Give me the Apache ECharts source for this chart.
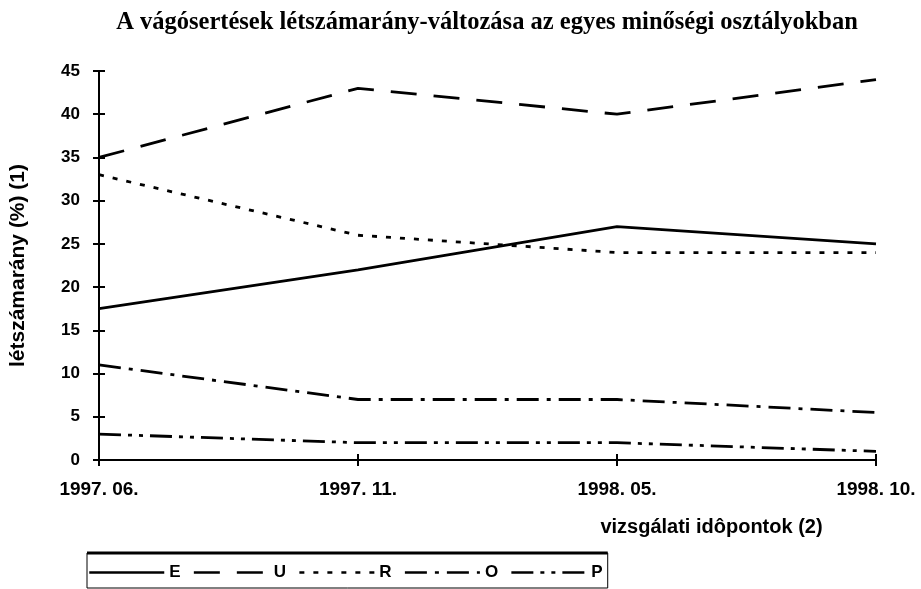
<!DOCTYPE html>
<html>
<head>
<meta charset="utf-8">
<script src="https://cdn.jsdelivr.net/npm/echarts@6/dist/echarts.min.js"></script>
<style>
  html, body { margin: 0; padding: 0; background: #fff; }
  #chart { width: 921px; height: 589px; }
</style>
</head>
<body>
<div id="chart"></div>
<script>
var myChart = echarts.init(document.getElementById('chart'))

// vizsgálati időpontok
var categories = ['1997. 06.', '1997. 11.', '1998. 05.', '1998. 10.']
var yTicks = [0, 5, 10, 15, 20, 25, 30, 35, 40, 45]

// minőségi osztályok, létszámarány %
var seriesE = [17.5, 22, 27, 25]
var seriesU = [35, 43, 40, 44]
var seriesR = [33, 26, 24, 24]
var seriesO = [11, 7, 7, 5.5]
var seriesP = [3, 2, 2, 1]

var dashes = {
  E: 'solid',
  U: [26, 17],
  R: [5, 9],
  O: [22, 8, 4, 8],
  P: [22, 7, 4, 7, 4, 7]
}

function line(name, data) {
  return {
    name: name,
    type: 'line',
    data: data,
    symbol: 'none',
    silent: true,
    color: '#000',
    lineStyle: { color: '#000', width: 2.8, type: dashes[name] }
  }
}

var font = 'Liberation Sans'

var option = {
  backgroundColor: '#fff',
  animation: false,
  color: ['#000'],
  title: {
    text: 'A vágósertések létszámarány-változása az egyes minőségi osztályokban',
    left: 482,
    textAlign: 'center',
    top: 5,
    textStyle: { fontFamily: 'Liberation Serif', fontWeight: 'bold', fontSize: 24.5, color: '#000' }
  },
  legend: {
    left: 87,
    top: 553,
    orient: 'horizontal',
    itemWidth: 75,
    itemHeight: 14,
    itemGap: 12,
    padding: [11, 5, 7, 1],
    borderColor: '#000',
    borderWidth: 1,
    borderRadius: 0,
    selectedMode: false,
    itemStyle: { opacity: 0 },
    lineStyle: { width: 2.5 },
    textStyle: { fontFamily: font, fontWeight: 'bold', fontSize: 17, color: '#000' },
    data: ['E', 'U', 'R', 'O', 'P']
  },
  grid: { left: 98, right: 45, top: 71, bottom: 129 },
  xAxis: [{
    type: 'category',
    data: categories,
    boundaryGap: false,
    name: 'vizsgálati idôpontok (2)',
    nameLocation: 'middle',
    nameGap: 57,
    nameTextStyle: {
      fontFamily: font, fontWeight: 'bold', fontSize: 20, color: '#000',
      padding: [0, 0, 0, 448]
    },
    axisLine: { lineStyle: { color: '#000', width: 2 } },
    axisTick: { show: true, length: 6, lineStyle: { color: '#000', width: 2 } },
    axisLabel: { margin: 20, fontFamily: font, fontWeight: 'bold', fontSize: 19, color: '#000' },
    splitLine: { show: false }
  }, {
    // inner half of the crossing ticks
    type: 'category',
    data: categories,
    boundaryGap: false,
    position: 'bottom',
    axisLine: { show: false },
    axisTick: { show: true, inside: true, length: 6, lineStyle: { color: '#000', width: 2 } },
    axisLabel: { show: false },
    splitLine: { show: false }
  }],
  yAxis: [{
    type: 'value',
    min: yTicks[0],
    max: yTicks[yTicks.length - 1],
    interval: 5,
    name: 'létszámarány (%) (1)',
    nameLocation: 'middle',
    nameGap: 70,
    nameTextStyle: { fontFamily: font, fontWeight: 'bold', fontSize: 21, color: '#000' },
    axisLine: { show: true, lineStyle: { color: '#000', width: 2 } },
    axisTick: { show: true, length: 6, lineStyle: { color: '#000', width: 2 } },
    axisLabel: { margin: 19, fontFamily: font, fontWeight: 'bold', fontSize: 17, color: '#000' },
    splitLine: { show: false }
  }, {
    type: 'value',
    min: yTicks[0],
    max: yTicks[yTicks.length - 1],
    interval: 5,
    position: 'left',
    axisLine: { show: false },
    axisTick: { show: true, inside: true, length: 6, lineStyle: { color: '#000', width: 2 } },
    axisLabel: { show: false },
    splitLine: { show: false }
  }],
  series: [
    line('E', seriesE),
    line('U', seriesU),
    line('R', seriesR),
    line('O', seriesO),
    line('P', seriesP)
  ]
}

myChart.setOption(option)

// thick top edge of the legend box, placed where the legend actually landed
var legendView = (myChart._componentsViews || []).filter(function (v) {
  return v && v.type === 'legend.plain'
})[0]
if (legendView && legendView._backgroundEl) {
  var bg = legendView._backgroundEl.shape
  var gx = legendView.group.x
  var gy = legendView.group.y
  myChart.setOption({
    graphic: [{
      type: 'line',
      silent: true,
      shape: { x1: gx + bg.x, y1: gy + bg.y, x2: gx + bg.x + bg.width, y2: gy + bg.y },
      style: { stroke: '#000', lineWidth: 3 }
    }]
  })
}
</script>
</body>
</html>
